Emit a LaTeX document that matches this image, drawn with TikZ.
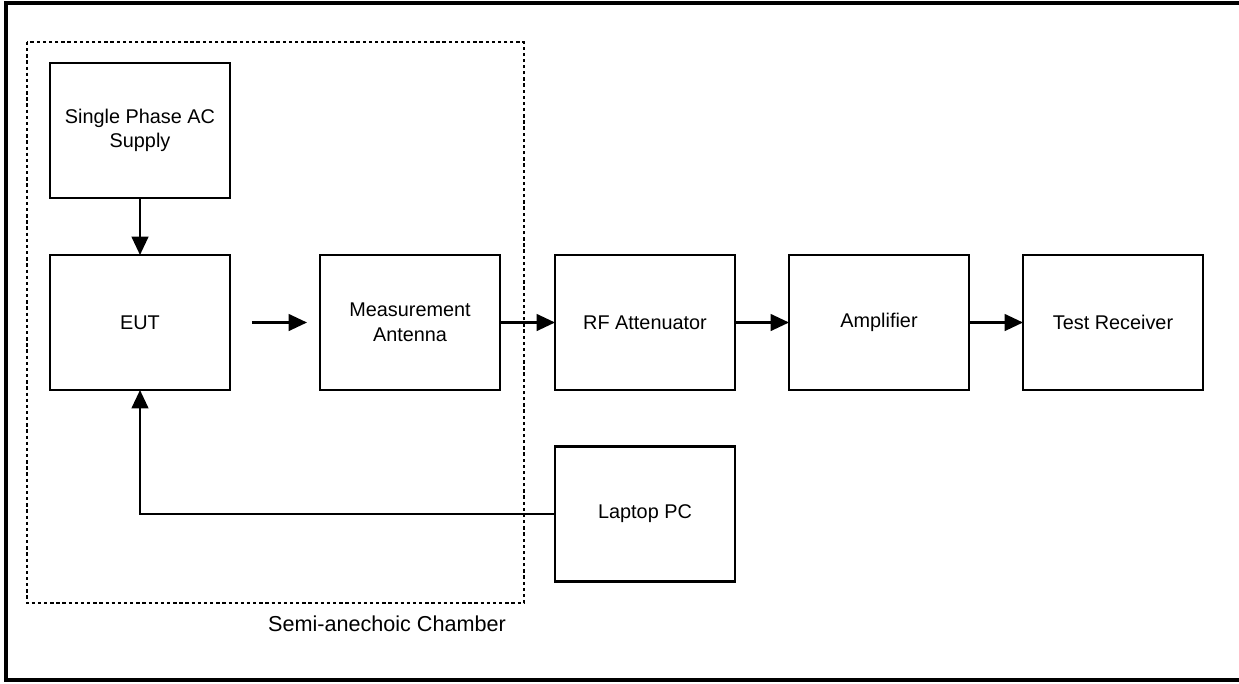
\documentclass[tikz,border=0pt]{standalone}
\usepackage{fontspec}
\setmainfont{Liberation Sans}
\usetikzlibrary{arrows.meta}

\tikzset{
  bloc/.style={draw, line width=1.5pt, minimum width=3.6cm, minimum height=2.7cm,
    inner sep=0pt, outer sep=0pt, align=center, font=\fontsize{11.3}{14}\selectfont},
  fleche/.style={-{Triangle[length=10.5pt,width=9.5pt]}, line width=1.4pt}
}

\begin{document}
\begin{tikzpicture}[x=0.02cm,y=-0.02cm]

% Cadre
\useasboundingbox (0,0) rectangle (1239,683);
\draw[line width=2.8pt]
(1239,3)
--
(6,3)
--
(6,680)
--
(1239,680);

% Chambre semi-anechoique
\draw[line width=1.4pt, dash pattern=on 1.9pt off 1.6pt]
(27,42)
rectangle
(524,603);

\node[font=\fontsize{12.3}{14}\selectfont] (chambre) at (387,624)
{Semi-anechoic Chamber};

% Blocs
\node[bloc] (alim) at (140,130.5) {Single Phase AC\\Supply};
\node[bloc] (eut) at (140,322.5) {EUT};
\node[bloc] (antenne) at (410,322.5) {Measurement\\Antenna};
\node[bloc] (attenuateur) at (645,322.5) {RF Attenuator};
\node[bloc] (ampli) at (879,322.5) {Amplifier};
\node[bloc] (recepteur) at (1113,322.5) {Test Receiver};
\node[bloc] (pc) at (645,514) {Laptop PC};

% Liaisons
\draw[fleche] (alim) -- (eut);
\draw[fleche, shorten <=0.44cm, shorten >=0.26cm] (eut) -- (antenne);
\draw[fleche] (antenne) -- (attenuateur);
\draw[fleche] (attenuateur) -- (ampli);
\draw[fleche] (ampli) -- (recepteur);
\draw[fleche] (pc.west) -| (eut.south);

\end{tikzpicture}
\end{document}
